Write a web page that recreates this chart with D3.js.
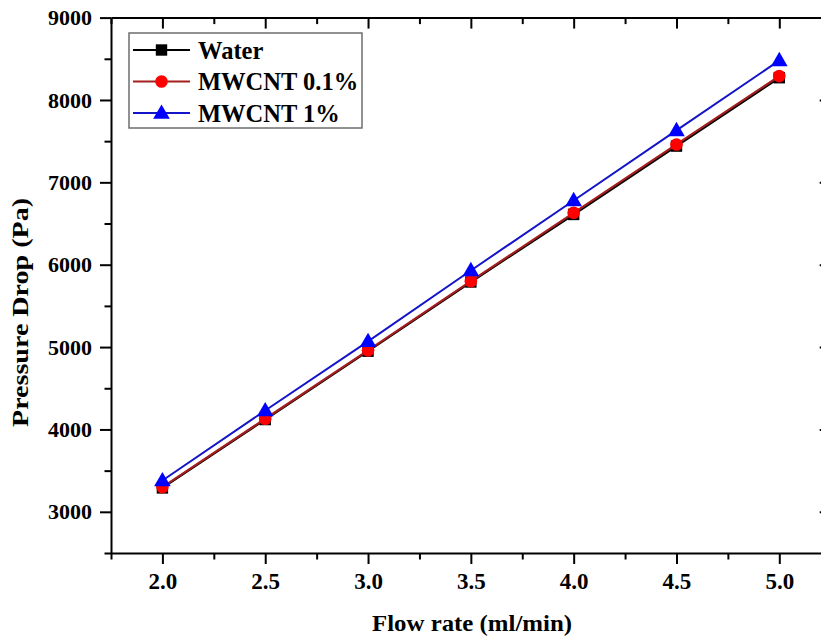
<!DOCTYPE html>
<html>
<head>
<meta charset="utf-8">
<script src="https://cdn.jsdelivr.net/npm/d3@7/dist/d3.min.js"></script>
<style>
  html, body { margin: 0; padding: 0; background: #fff; }
  svg { display: block; font-family: "Liberation Serif", "Times New Roman", serif; font-weight: bold; }
  svg text { font-family: "Liberation Serif", "Times New Roman", serif; font-weight: bold; }
</style>
</head>
<body>
<svg id="chart" width="821" height="638"></svg>
<script>
// Flow rate (ml/min)
const flowRates = [2.0, 2.5, 3.0, 3.5, 4.0, 4.5, 5.0];
// Pressure drop (Pa) per fluid
const water     = [3290, 4120, 4950, 5790, 6610, 7440, 8270];
const mwcnt01   = [3300, 4130, 4960, 5800, 6630, 7460, 8290];
const mwcnt1    = [3380, 4230, 5070, 5930, 6780, 7630, 8480];
const seriesNames = ["Water", "MWCNT 0.1%", "MWCNT 1%"];
const xTicks = [2.0, 2.5, 3.0, 3.5, 4.0, 4.5, 5.0];
const yTicks = [3000, 4000, 5000, 6000, 7000, 8000, 9000];

const series = [
  { name: seriesNames[0], values: water,   line: "#000000", fill: "#000000", marker: "square",   lw: 2.2 },
  { name: seriesNames[1], values: mwcnt01, line: "#a51d1d", fill: "#ff0000", marker: "circle",   lw: 2.2 },
  { name: seriesNames[2], values: mwcnt1,  line: "#1414c8", fill: "#0000ff", marker: "triangle", lw: 2 }
];

const svg = d3.select("#chart");
const plotL = 111, plotR = 830.7, plotT = 17.6, plotB = 553;

const x = d3.scaleLinear().domain([1.75, 5.25]).range([plotL, plotR]);
const y = d3.scaleLinear().domain([2500, 9000]).range([plotB, plotT]);

const xMinor = d3.range(1.75, 5.26, 0.25).filter(v => !xTicks.some(t => Math.abs(t - v) < 1e-6));
const yMinor = d3.range(2500, 9001, 500).filter(v => !yTicks.includes(v));

// Axes: outward ticks at bottom/left, inward mirror ticks on top/right
function styleAxis(g) {
  g.attr("font-family", null).attr("font-size", null);
  g.selectAll("path").attr("stroke", "#000").attr("stroke-width", 2);
  g.selectAll("line").attr("stroke", "#000").attr("stroke-width", 2);
}

const xAxis = svg.append("g").attr("transform", `translate(0,${plotB})`)
  .call(d3.axisBottom(x).tickValues(xTicks).tickFormat(d3.format(".1f")).tickSize(11).tickSizeOuter(0).tickPadding(9));
styleAxis(xAxis);
xAxis.selectAll("text").attr("font-size", 23).attr("fill", "#000");
svg.append("g").attr("transform", `translate(0,${plotB})`)
  .call(d3.axisBottom(x).tickValues(xMinor).tickFormat("").tickSize(6.5).tickSizeOuter(0))
  .call(styleAxis).select("path").remove();

const yAxis = svg.append("g").attr("transform", `translate(${plotL},0)`)
  .call(d3.axisLeft(y).tickValues(yTicks).tickFormat(d3.format("d")).tickSize(11).tickSizeOuter(0).tickPadding(8));
styleAxis(yAxis);
yAxis.selectAll("text").attr("font-size", 22).attr("fill", "#000");
svg.append("g").attr("transform", `translate(${plotL},0)`)
  .call(d3.axisLeft(y).tickValues(yMinor).tickFormat("").tickSize(6.5).tickSizeOuter(0))
  .call(styleAxis).select("path").remove();

// Top mirror axis
const topAx = svg.append("g").attr("transform", `translate(0,${plotT})`)
  .call(d3.axisTop(x).tickValues(xTicks).tickFormat("").tickSize(-11).tickSizeOuter(0));
styleAxis(topAx);
svg.append("g").attr("transform", `translate(0,${plotT})`)
  .call(d3.axisTop(x).tickValues(xMinor).tickFormat("").tickSize(-6.5).tickSizeOuter(0))
  .call(styleAxis).select("path").remove();

// Right mirror axis
const rightAx = svg.append("g").attr("transform", `translate(${plotR},0)`)
  .call(d3.axisRight(y).tickValues(yTicks).tickFormat("").tickSize(-11).tickSizeOuter(0));
styleAxis(rightAx);
svg.append("g").attr("transform", `translate(${plotR},0)`)
  .call(d3.axisRight(y).tickValues(yMinor).tickFormat("").tickSize(-6.5).tickSizeOuter(0))
  .call(styleAxis).select("path").remove();

// Axis titles
svg.append("text")
  .attr("x", 472).attr("y", 631)
  .attr("text-anchor", "middle").attr("font-size", 24).attr("fill", "#000")
  .attr("textLength", 200).attr("lengthAdjust", "spacingAndGlyphs")
  .text("Flow rate (ml/min)");
svg.append("text")
  .attr("transform", `translate(28,312.5) rotate(-90)`)
  .attr("text-anchor", "middle").attr("font-size", 24).attr("fill", "#000")
  .attr("textLength", 229).attr("lengthAdjust", "spacingAndGlyphs")
  .text("Pressure Drop (Pa)");

// Marker drawing
const symbolFor = {
  square:   d3.symbol().type(d3.symbolSquare).size(130),
  circle:   d3.symbol().type(d3.symbolCircle).size(125),
  triangle: d3.symbol().type(d3.symbolTriangle).size(120)
};

const line = d3.line().x(d => x(d[0])).y(d => y(d[1]));

series.forEach(s => {
  const pts = flowRates.map((f, i) => [f, s.values[i]]);
  const g = svg.append("g");
  g.append("path").datum(pts).attr("d", line)
    .attr("fill", "none").attr("stroke", s.line).attr("stroke-width", s.lw);
  g.selectAll("path.m").data(pts).join("path").attr("class", "m")
    .attr("transform", d => `translate(${x(d[0])},${y(d[1]) + (s.marker === "triangle" ? 1 : 0)})`)
    .attr("d", symbolFor[s.marker])
    .attr("fill", s.fill);
});

// Legend
const legend = svg.append("g");
legend.append("rect").attr("x", 129).attr("y", 33).attr("width", 233).attr("height", 95)
  .attr("fill", "#fff").attr("stroke", "#6e6e6e").attr("stroke-width", 1.5);
const rowY = [50, 81.5, 113];
series.forEach((s, i) => {
  const ry = rowY[i];
  legend.append("line").attr("x1", 133).attr("x2", 190).attr("y1", ry).attr("y2", ry)
    .attr("stroke", s.line).attr("stroke-width", s.lw);
  legend.append("path").attr("transform", `translate(161.5,${ry + (s.marker === "triangle" ? 1 : 0)})`)
    .attr("d", symbolFor[s.marker]).attr("fill", s.fill);
  legend.append("text").attr("x", 198).attr("y", ry).attr("dy", "0.35em")
    .attr("font-size", 24.5).attr("fill", "#000").text(s.name);
});
</script>
</body>
</html>
